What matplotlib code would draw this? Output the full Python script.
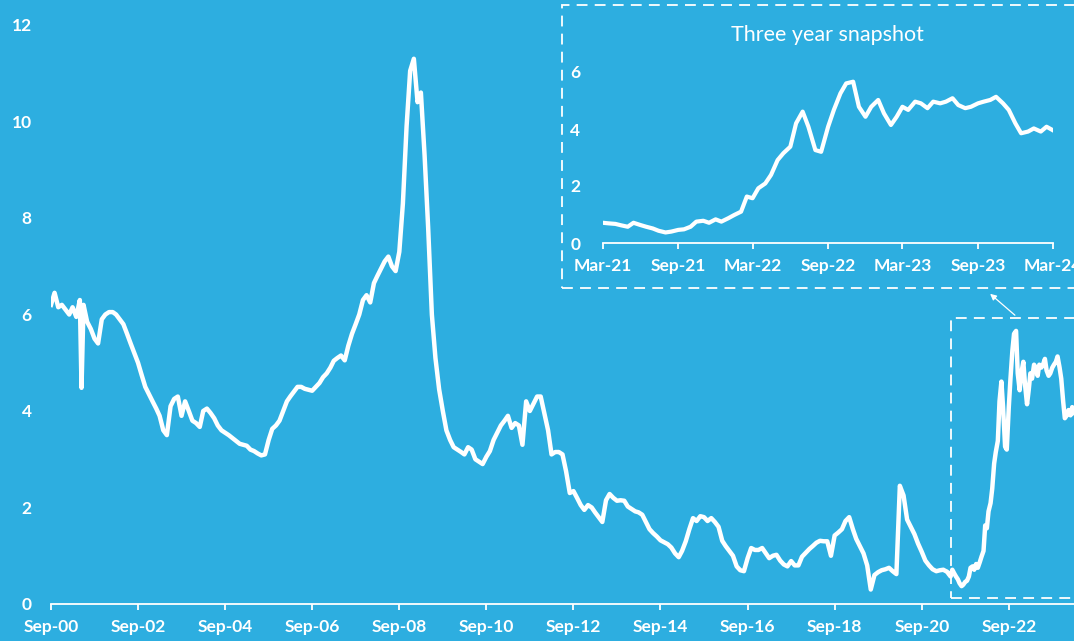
import pandas as pd
import matplotlib
matplotlib.use('Agg')
import matplotlib.pyplot as plt
import matplotlib.dates as mdates
import matplotlib.patches as patches

BG = '#2daee0'
FG = 'white'

# monthly readings, Sep-00 .. Feb-21
monthly_start = '2000-09-01'
monthly_values = [
    6.2, 6.45, 6.15, 6.2, 6.1, 6.0, 6.15, 5.95, 6.3, 6.2, 5.85, 5.7,
    5.5, 5.4, 5.9, 6.0, 6.05, 6.05, 6.0, 5.9, 5.8, 5.6, 5.4, 5.2,
    5.0, 4.75, 4.5, 4.35, 4.2, 4.05, 3.9, 3.6, 3.5, 4.1, 4.25, 4.3,
    3.9, 4.2, 4.0, 3.8, 3.75, 3.67, 4.0, 4.05, 3.96, 3.85, 3.7, 3.6,
    3.55, 3.5, 3.44, 3.38, 3.32, 3.3, 3.28, 3.2, 3.17, 3.12, 3.08, 3.1,
    3.4, 3.63, 3.7, 3.8, 4.0, 4.2, 4.3, 4.4, 4.5, 4.5, 4.46, 4.44,
    4.42, 4.5, 4.58, 4.7, 4.78, 4.9, 5.04, 5.1, 5.15, 5.05, 5.35, 5.6,
    5.8, 6.0, 6.3, 6.4, 6.25, 6.65, 6.8, 6.95, 7.1, 7.2, 7.0, 6.9,
    7.3, 8.3, 9.9, 11.05, 11.3, 10.4, 10.6, 9.3, 7.8, 6.0, 5.1, 4.45,
    4.0, 3.6, 3.4, 3.25, 3.2, 3.15, 3.1, 3.25, 3.2, 3.0, 2.95, 2.9,
    3.05, 3.17, 3.4, 3.55, 3.7, 3.8, 3.9, 3.65, 3.75, 3.7, 3.3, 4.2,
    4.0, 4.15, 4.3, 4.3, 3.95, 3.6, 3.1, 3.15, 3.15, 3.1, 2.75, 2.3,
    2.34, 2.2, 2.05, 1.95, 2.05, 2.0, 1.9, 1.8, 1.7, 2.15, 2.28, 2.2,
    2.14, 2.15, 2.14, 2.02, 1.97, 1.92, 1.9, 1.85, 1.7, 1.55, 1.47, 1.4,
    1.32, 1.28, 1.24, 1.17, 1.05, 0.97, 1.1, 1.3, 1.55, 1.78, 1.72, 1.82,
    1.8, 1.72, 1.78, 1.7, 1.6, 1.31, 1.2, 1.1, 1.0, 0.78, 0.7, 0.68,
    0.95, 1.16, 1.12, 1.12, 1.16, 1.05, 0.95, 1.0, 1.02, 0.9, 0.82, 0.78,
    0.89, 0.8, 0.8, 0.98, 1.06, 1.14, 1.2, 1.27, 1.31, 1.3, 1.3, 1.0,
    1.42, 1.48, 1.55, 1.72, 1.8, 1.55, 1.35, 1.2, 1.05, 0.8, 0.3, 0.6,
    0.66, 0.7, 0.72, 0.75, 0.68, 0.62, 2.45, 2.25, 1.75, 1.6, 1.45, 1.25,
    1.08, 0.9, 0.8, 0.72, 0.68, 0.7,
]

# one-day drop in May-01
spike_date = '2001-05-15'
spike_value = 4.48

# half-monthly readings for the three year snapshot, Mar-21 .. Mar-24
recent_start = '2021-03-01'
recent_values = [
    0.71, 0.69, 0.67, 0.62, 0.57, 0.71, 0.63, 0.57, 0.51, 0.43, 0.37, 0.40,
    0.46, 0.48, 0.57, 0.75, 0.78, 0.71, 0.83, 0.75, 0.87, 0.98, 1.10, 1.63,
    1.57, 1.92, 2.09, 2.39, 2.91, 3.15, 3.38, 4.20, 4.61, 4.08, 3.26, 3.20,
    4.08, 4.67, 5.25, 5.60, 5.66, 4.78, 4.43, 4.78, 5.02, 4.55, 4.14, 4.43,
    4.78, 4.67, 4.96, 4.90, 4.73, 4.96, 4.90, 4.96, 5.08, 4.84, 4.73, 4.78,
    4.90, 4.96, 5.02, 5.13, 4.90, 4.67, 4.20, 3.85, 3.91, 4.02, 3.91, 4.08, 3.96,
]

main_yticks = [0, 2, 4, 6, 8, 10, 12]
inset_yticks = [0, 2, 4, 6]

plt.rcParams['font.family'] = ['Lato', 'DejaVu Sans']


def build_series():
    monthly = pd.Series(monthly_values,
                        index=pd.date_range(monthly_start, periods=len(monthly_values), freq='MS'))
    recent = pd.Series(recent_values,
                       index=pd.date_range(recent_start, periods=len(recent_values), freq='SMS'))
    spike = pd.Series([spike_value], index=[pd.Timestamp(spike_date)])
    full = pd.concat([monthly, spike, recent]).sort_index()
    return full, recent


def style_axes(ax):
    ax.set_facecolor(BG)
    for side in ['top', 'right', 'left']:
        ax.spines[side].set_visible(False)
    ax.spines['bottom'].set_color(FG)
    ax.spines['bottom'].set_linewidth(1.3)
    ax.tick_params(axis='x', colors=FG, direction='out', length=4, width=1.3,
                   labelsize=12.5, pad=7)
    ax.tick_params(axis='y', colors=FG, length=0, labelsize=12.5, pad=14)
    for lab in ax.get_xticklabels() + ax.get_yticklabels():
        lab.set_fontweight('bold')


def draw_chart(full, recent):
    fig = plt.figure(figsize=(10.74, 6.41), dpi=100, facecolor=BG)

    ax = fig.add_axes([51 / 1074, 1 - 604 / 641, 1 - 51 / 1074, (604 - 25) / 641])
    ax.plot(full.index, full.values, color=FG, lw=3.2, solid_joinstyle='round')
    ax.set_xlim(pd.Timestamp('2000-09-01'), pd.Timestamp('2024-03-01'))
    ax.set_ylim(0, 12)
    ax.set_yticks(main_yticks)
    ax.xaxis.set_major_locator(mdates.YearLocator(2, month=9, day=1))
    ax.xaxis.set_major_formatter(mdates.DateFormatter('%b-%y'))
    style_axes(ax)

    # dashed box round the recent period
    x0 = mdates.date2num(pd.Timestamp('2021-05-01'))
    x1 = mdates.date2num(pd.Timestamp('2024-12-01'))
    box = patches.Rectangle((x0, 0.12), x1 - x0, 5.8, fill=False, edgecolor=FG,
                            lw=1.3, linestyle=(0, (6, 4)), clip_on=False)
    ax.add_patch(box)

    # inset
    axin = fig.add_axes([602.7 / 1074, 1 - 243 / 641, 450 / 1074, (243 - 72) / 641])
    axin.plot(recent.index, recent.values, color=FG, lw=3.0, solid_joinstyle='round')
    axin.set_xlim(pd.Timestamp('2021-03-01'), pd.Timestamp('2024-03-01'))
    axin.set_ylim(0, 6)
    axin.set_yticks(inset_yticks)
    axin.xaxis.set_major_locator(mdates.MonthLocator(bymonth=[3, 9]))
    axin.xaxis.set_major_formatter(mdates.DateFormatter('%b-%y'))
    style_axes(axin)
    axin.tick_params(axis='y', pad=16)
    axin.set_title('Three year snapshot', color=FG, fontsize=15.5, pad=22)

    frame = patches.Rectangle((562 / 1074, 1 - 288 / 641), 0.6, (288 - 5) / 641,
                              fill=False, edgecolor=FG, lw=1.3, linestyle=(0, (6, 4)),
                              transform=fig.transFigure)
    fig.add_artist(frame)

    fig.add_artist(patches.FancyArrowPatch(
        (1017 / 1074, 1 - 317 / 641), (988 / 1074, 1 - 292 / 641),
        transform=fig.transFigure, arrowstyle='-|>', mutation_scale=9,
        color=FG, lw=0.9))

    fig.savefig('out.png', dpi=100, facecolor=BG)


if __name__ == '__main__':
    full, recent = build_series()
    draw_chart(full, recent)
